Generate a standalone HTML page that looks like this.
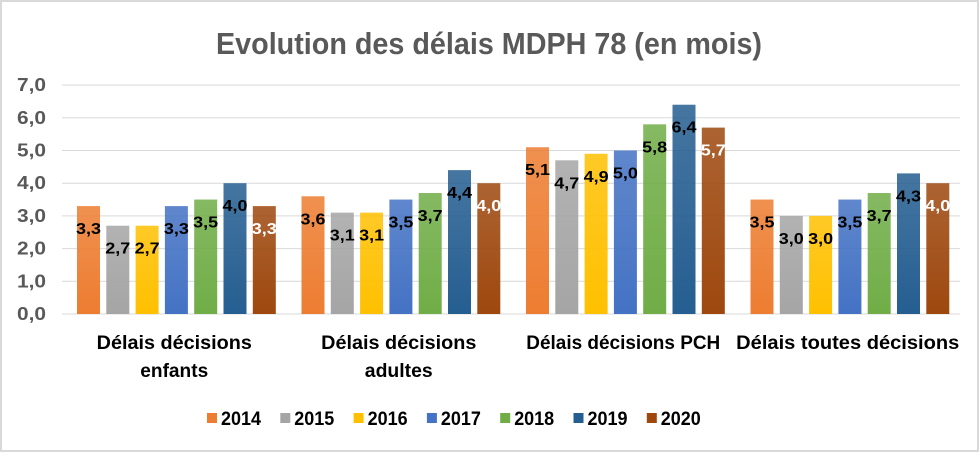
<!DOCTYPE html>
<html><head><meta charset="utf-8"><style>
html,body{margin:0;padding:0;background:#fff}
svg{display:block;font-family:"Liberation Sans",sans-serif}
</style></head><body>
<svg id="chart" width="979" height="452" viewBox="0 0 979 452" xmlns="http://www.w3.org/2000/svg">
<defs></defs>
<rect x="1" y="1" width="977" height="450" fill="#fff" stroke="#d9d9d9" stroke-width="2"/>
<text x="489" y="54" text-anchor="middle" font-size="31" font-weight="bold" fill="#595959" textLength="546" lengthAdjust="spacingAndGlyphs">Evolution des délais MDPH 78 (en mois)</text>
<g id="grid"></g><g id="yaxis"></g><g id="bars"></g><g id="xaxis"></g><g id="legend"></g>
</svg>
<script>
const categories=[["Délais décisions","enfants"],["Délais décisions","adultes"],["Délais décisions PCH"],["Délais toutes décisions"]];
const years=["2014","2015","2016","2017","2018","2019","2020"];
const v2014=[3.3,3.6,5.1,3.5];
const v2015=[2.7,3.1,4.7,3.0];
const v2016=[2.7,3.1,4.9,3.0];
const v2017=[3.3,3.5,5.0,3.5];
const v2018=[3.5,3.7,5.8,3.7];
const v2019=[4.0,4.4,6.4,4.3];
const v2020=[3.3,4.0,5.7,4.0];
const yTicks=[0,1,2,3,4,5,6,7];
const series=[v2014,v2015,v2016,v2017,v2018,v2019,v2020];
const colors=["#ED7D31","#A5A5A5","#FFC000","#4472C4","#70AD47","#255E91","#9E480E"];
const labelColors=["#000","#000","#000","#000","#000","#000","#fff"];
const NS="http://www.w3.org/2000/svg";
const svg=document.getElementById('chart');
const X0=62,CW=224.5,Y0=314,PU=32.7;
function y(v){return Y0-v*PU;}
function el(t,a,p){const e=document.createElementNS(NS,t);for(const k in a)e.setAttribute(k,a[k]);p.appendChild(e);return e;}
const defs=svg.querySelector('defs');
colors.forEach((c,i)=>{const g=el('linearGradient',{id:'g'+i,x1:0,y1:0,x2:0,y2:1},defs);
el('stop',{offset:'0','stop-color':c,'stop-opacity':'0.85'},g);el('stop',{offset:'1','stop-color':c},g);});
const grid=document.getElementById('grid'),ya=document.getElementById('yaxis');
yTicks.forEach(t=>{const l=el('line',{x1:X0,x2:X0+CW*4,y1:y(t),y2:y(t),stroke:'#d9d9d9','stroke-width':1},grid);


const tx=el('text',{x:46,y:y(t)+6,'text-anchor':'end','font-size':18,'font-weight':'bold',fill:'#595959',textLength:29,lengthAdjust:'spacingAndGlyphs'},ya);
tx.textContent=t.toFixed(1).replace('.',',');

});
const bars=document.getElementById('bars');
series.forEach((s,si)=>{s.forEach((v,ci)=>{const bx=X0+CW*ci+15+si*29.3;
const r=el('rect',{x:bx,y:y(v),width:23,height:v*PU,fill:'url(#g'+si+')'},bars);


const t=el('text',{x:bx+11.5,y:y(v)+28,'text-anchor':'middle','font-size':16,'font-weight':'bold',fill:labelColors[si],textLength:25,lengthAdjust:'spacingAndGlyphs'},bars);
t.textContent=v.toFixed(1).replace('.',',');

});});
const xa=document.getElementById('xaxis');
categories.forEach((c,ci)=>{c.forEach((line,li)=>{const t=el('text',{x:X0+CW*ci+CW/2,y:349+li*28,'text-anchor':'middle','font-size':19,'font-weight':'bold',fill:'#000'},xa);
t.textContent=line;
t.setAttribute('textLength',line.length*9.7);
t.setAttribute('lengthAdjust','spacingAndGlyphs');

});});
const lg=document.getElementById('legend');
years.forEach((yr,i)=>{const lx=207+i*73.3;
const g=el('g',{},lg);


el('rect',{x:lx,y:413,width:10,height:10,fill:colors[i]},g);
const t=el('text',{x:lx+14,y:425,'font-size':19,'font-weight':'bold',fill:'#000',textLength:40,lengthAdjust:'spacingAndGlyphs'},g);
t.textContent=yr;});
</script>
</body></html>
